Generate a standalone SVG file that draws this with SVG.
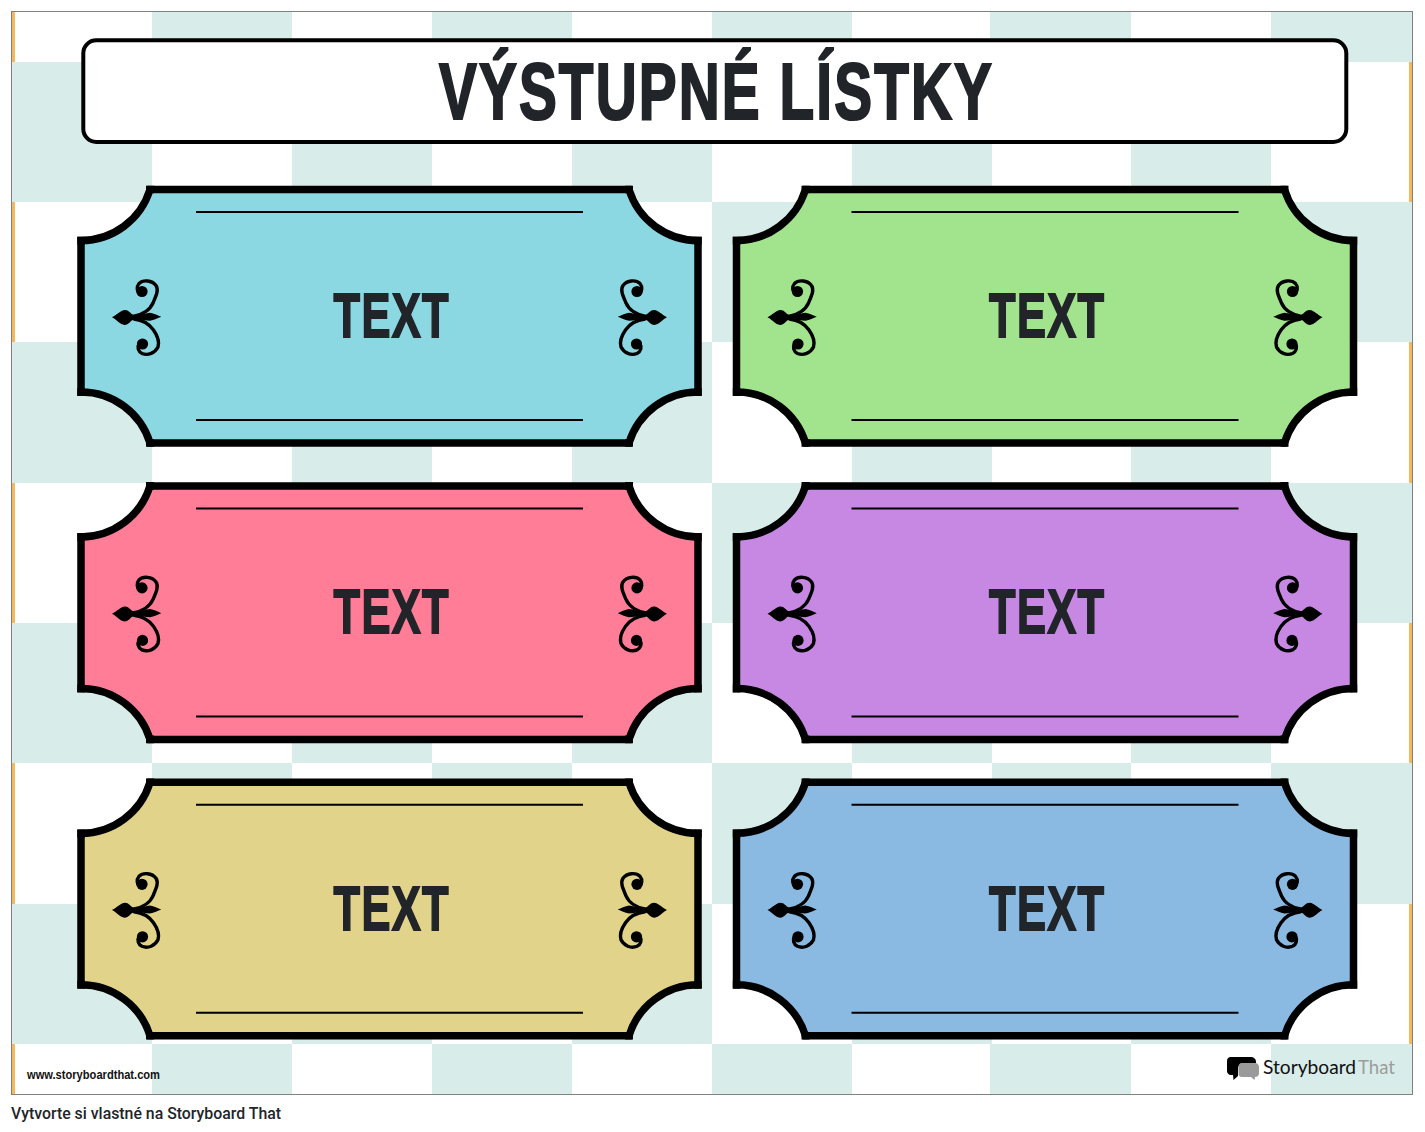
<svg xmlns="http://www.w3.org/2000/svg" xmlns:xlink="http://www.w3.org/1999/xlink" width="1425" height="1132" viewBox="0 0 1425 1132">
<style>
.c{fill:#d8ecea}
.o{fill:#f5b85c}
.tk{stroke:#000;stroke-width:7.5;stroke-linejoin:miter;stroke-miterlimit:6}
.ln{stroke:#000;stroke-width:2;fill:none}
.orn{fill:none;stroke:#000;stroke-width:3.4;stroke-linecap:round}
.blk{fill:#000;stroke:none}
.t{font-family:"Liberation Sans",Arimo,Arial,sans-serif;font-weight:700;fill:#212529;text-anchor:start}
.tl{font-size:63px;stroke:#212529;stroke-width:1.8;letter-spacing:2px}
</style>
<defs>
<path id="tshape" d="M150 189.500H629A72.200 72.200 0 0 0 698 240.500V392A72.200 72.200 0 0 0 629 443H150A72.200 72.200 0 0 0 81 392V240.500A72.200 72.200 0 0 0 150 189.500Z"/>
<g id="orn">
<path class="blk" d="M112 317.300C117 315 120 310.500 125 310C129 310 130 313.500 134 315.300C141 315.500 146 313 150 312.700C154 313.500 158 315.500 161.300 316.800C158 318 154 320.300 150 320.800C146 320.500 141 319.300 134 319.300C130 321 129 325 124.500 325C120 324.500 117 320 112 317.300Z"/>
<path class="orn" d="M133 316.500C142 315 150 310 153 303C156 296 159 290 156 285.500C152 280 143 279.500 139 283.500C136 287 137 292 140 294"/>
<circle class="blk" cx="142" cy="291.500" r="5.600"/>
<path class="orn" d="M134 319C143 320 150 325 153.500 330C157 335 159.500 342 158 347C155 353 148 356 142 353.500C138 351.500 137 347 139 344"/>
<circle class="blk" cx="142.500" cy="344" r="5.600"/>
</g>
<g id="ticket">
<use href="#tshape" class="tk"/>
<path class="blk" d="M146 185.700h8v7.600h-8zM625 185.700h8v7.600h-8zM77.300 236.700h7.600v8h-7.600zM694.100 236.700h7.600v8h-7.600zM146 439.200h8v7.600h-8zM625 439.200h8v7.600h-8zM77.300 388h7.600v8h-7.600zM694.100 388h7.600v8h-7.600z"/>
<path class="ln" d="M196 212H583M196 420H583"/>
<use href="#orn"/>
<use href="#orn" transform="matrix(-1 0 0 1 779 0)"/>
<text class="t tl" x="333.500" y="336.800" textLength="116.500" lengthAdjust="spacingAndGlyphs">TEXT</text>
</g>
</defs>

<g id="background">
<rect x="12" y="12" width="1400" height="1082" fill="#fff"/>
<path class="o" d="M12 12h3v50h-3zM12 202h3v140h-3zM12 483h3v140h-3zM12 763h3v141h-3zM12 1044h3v50h-3zM1409 62h3v140h-3zM1409 342h3v141h-3zM1409 623h3v140h-3zM1409 904h3v140h-3z"/>
<path class="c" d="M152 12h140v50h-140zM432 12h140v50h-140zM712 12h140v50h-140zM990 12h141v50h-141zM1271 12h141v50h-141z
M12 62h140v140h-140zM292 62h140v140h-140zM572 62h140v140h-140zM852 62h140v140h-140zM1131 62h140v140h-140z
M152 202h140v140h-140zM432 202h140v140h-140zM712 202h140v140h-140zM992 202h139v140h-139zM1271 202h141v140h-141z
M12 342h140v141h-140zM292 342h140v141h-140zM572 342h140v141h-140zM852 342h140v141h-140zM1131 342h140v141h-140z
M152 483h140v140h-140zM432 483h140v140h-140zM712 483h140v140h-140zM992 483h139v140h-139zM1271 483h141v140h-141z
M12 623h140v140h-140zM292 623h140v140h-140zM572 623h140v140h-140zM852 623h140v140h-140zM1131 623h140v140h-140z
M152 763h140v141h-140zM432 763h140v141h-140zM712 763h140v141h-140zM992 763h139v141h-139zM1271 763h141v141h-141z
M12 904h140v140h-140zM292 904h140v140h-140zM572 904h140v140h-140zM852 904h140v140h-140zM1131 904h140v140h-140z
M152 1044h140v50h-140zM432 1044h140v50h-140zM712 1044h140v50h-140zM990 1044h141v50h-141zM1271 1044h141v50h-141z"/>
<rect x="11.500" y="11.500" width="1401" height="1083" fill="none" stroke="#808080"/>
</g>

<g id="title">
<rect x="83.300" y="40.300" width="1263" height="101.700" rx="13" fill="#fff" stroke="#000" stroke-width="4"/>
<text class="t" x="439" y="119" font-size="80" stroke="#212529" stroke-width="2.200" letter-spacing="3" textLength="555" lengthAdjust="spacingAndGlyphs">VÝSTUPNÉ LÍSTKY</text>
</g>

<g id="ticket-blue"><use href="#ticket" fill="#8bd7e2"/></g>
<g id="ticket-green" transform="translate(655.500 0)"><use href="#ticket" fill="#a1e48d"/></g>
<g id="ticket-pink" transform="translate(0 296.400)"><use href="#ticket" fill="#ff7d96"/></g>
<g id="ticket-purple" transform="translate(655.500 296.400)"><use href="#ticket" fill="#c688e3"/></g>
<g id="ticket-khaki" transform="translate(0 592.800)"><use href="#ticket" fill="#e2d38a"/></g>
<g id="ticket-steel" transform="translate(655.500 592.800)"><use href="#ticket" fill="#8abae2"/></g>

<g id="footer">
<text x="27" y="1079" font-family="'Liberation Sans',sans-serif" font-weight="700" font-size="12" fill="#111" textLength="133" lengthAdjust="spacingAndGlyphs">www.storyboardthat.com</text>
<g id="logo">
<path fill="#000" d="M1231 1057H1250C1254 1057 1256 1059 1256 1062V1063H1244C1240 1063 1238 1066 1238 1069V1076L1233.500 1080L1233 1075H1231C1228.500 1075 1227 1073 1227 1071V1061C1227 1058.500 1228.500 1057 1231 1057Z"/>
<path fill="#9a9a9a" d="M1242 1063H1255C1257.500 1063 1259 1065 1259 1067V1073C1259 1075.500 1257.500 1077 1255 1077L1254.500 1080L1251 1077H1242C1239.500 1077 1238.500 1075.500 1238.500 1073V1067C1238.500 1065 1239.500 1063 1242 1063Z"/>
<text x="1263" y="1074" font-family="Lato,'Open Sans',sans-serif" font-size="18.500" fill="#111" textLength="93" lengthAdjust="spacingAndGlyphs">Storyboard</text>
<text x="1358" y="1074" font-family="Lato,'Open Sans',sans-serif" font-size="18.500" fill="#9c9c9c" textLength="37" lengthAdjust="spacingAndGlyphs">That</text>
</g>
<text x="11" y="1119" font-family="Roboto,sans-serif" font-weight="500" font-size="16" fill="#212529" textLength="270" lengthAdjust="spacingAndGlyphs">Vytvorte si vlastné na Storyboard That</text>
</g>
</svg>
